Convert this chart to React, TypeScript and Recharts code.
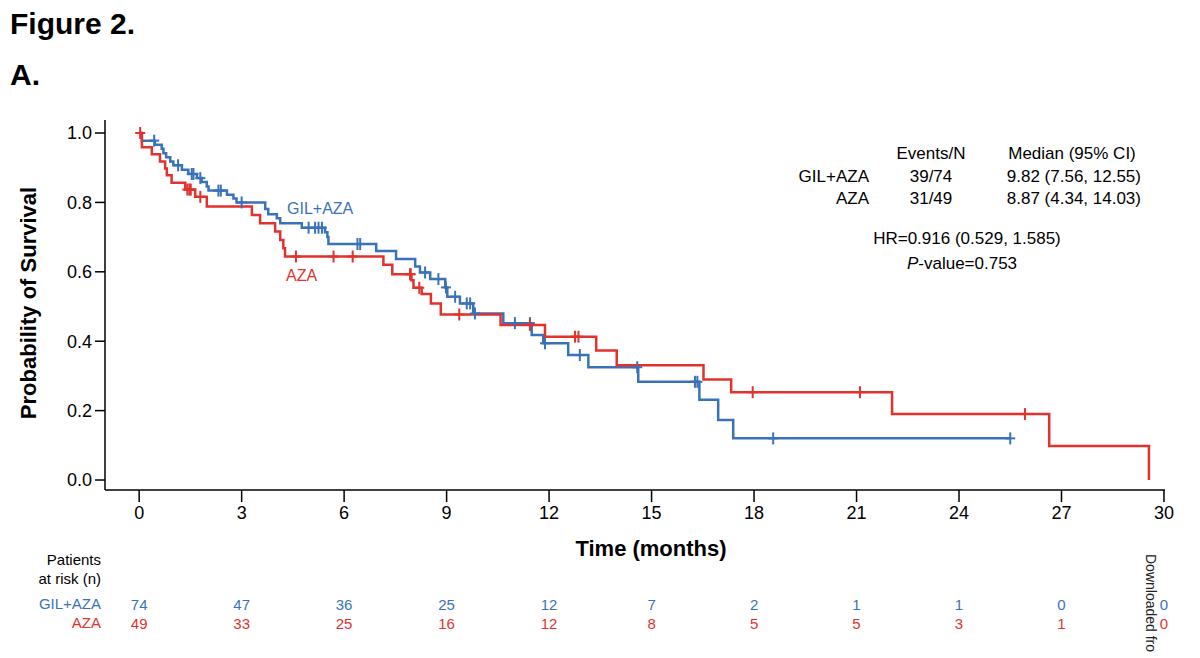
import React from "react";
import { ComposedChart, Line, Scatter, XAxis, YAxis } from "recharts";

const BLUE = "#3a72ba";
const RED = "#e1322e";
const FONT = "'Liberation Sans', Arial, Helvetica, sans-serif";

// Kaplan-Meier steps: month of each drop and the survival estimate after it
const gilTimes = [
  0, 0.08, 0.46, 0.66, 0.71, 0.79, 0.91, 1.0, 1.25, 1.44, 1.69, 1.83, 1.98, 2.03,
  2.57, 2.76, 2.85, 3.69, 3.78, 4.03, 4.13, 4.76, 5.44, 5.51, 5.54, 6.94, 7.52,
  8.08, 8.22, 8.52, 8.96, 9.02, 9.39, 9.78, 10.66, 11.49, 11.83, 12.56, 13.15,
  14.61, 16.4, 16.95, 17.39, 25.5,
];
const gilSurv = [
  1.0, 0.978, 0.966, 0.955, 0.942, 0.93, 0.918, 0.907, 0.894, 0.882, 0.87, 0.859,
  0.846, 0.834, 0.822, 0.811, 0.8, 0.781, 0.766, 0.754, 0.74, 0.727, 0.714, 0.7,
  0.68, 0.66, 0.637, 0.615, 0.598, 0.579, 0.555, 0.528, 0.509, 0.48, 0.452, 0.418,
  0.394, 0.36, 0.325, 0.283, 0.231, 0.173, 0.12, 0.12,
];
const gilCensored = [
  0.44, 1.14, 1.54, 1.59, 1.79, 2.32, 2.39, 3.0, 4.96, 5.15, 5.25, 5.35, 6.39,
  6.47, 8.37, 8.76, 8.98, 9.25, 9.59, 9.69, 9.83, 11.0, 11.44, 11.88, 12.9, 14.58,
  16.27, 16.34, 18.56, 25.5,
];

const azaTimes = [
  0, 0.08, 0.37, 0.61, 0.76, 0.81, 0.95, 1.35, 1.64, 1.98, 3.3, 3.54, 3.98, 4.13,
  4.22, 4.27, 7.15, 7.41, 7.97, 8.03, 8.27, 8.54, 8.83, 10.58, 11.88, 13.38, 13.98,
  16.52, 17.33, 22.04, 26.64, 29.56,
];
const azaSurv = [
  1.0, 0.959, 0.939, 0.918, 0.898, 0.878, 0.857, 0.837, 0.816, 0.788, 0.764, 0.74,
  0.716, 0.692, 0.668, 0.644, 0.62, 0.593, 0.576, 0.554, 0.536, 0.509, 0.477, 0.447,
  0.413, 0.373, 0.331, 0.29, 0.253, 0.19, 0.098, 0.0,
];
const azaCensored = [
  0.03, 1.41, 1.47, 1.51, 1.79, 4.59, 5.69, 6.25, 7.93, 7.95, 8.2, 9.37, 11.44,
  12.76, 12.86, 17.96, 21.1, 25.93,
];

const monthTicks = [0, 3, 6, 9, 12, 15, 18, 21, 24, 27, 30];
const survTicks = [0, 0.2, 0.4, 0.6, 0.8, 1.0];
const gilAtRisk = [74, 47, 36, 25, 12, 7, 2, 1, 1, 0, 0];
const azaAtRisk = [49, 33, 25, 16, 12, 8, 5, 5, 3, 1, 0];

const toSteps = (times: number[], surv: number[]) =>
  times.map((t, i) => ({ t, s: surv[i] }));

// survival level of the step curve in effect at month t
const levelAt = (times: number[], surv: number[], t: number) => {
  let s = surv[0];
  times.forEach((x, i) => {
    if (x <= t) s = surv[i];
  });
  return s;
};

const censorMarks = (times: number[], surv: number[], cens: number[]) =>
  cens.map((t) => ({ t, s: levelAt(times, surv, t) }));

const gilSteps = toSteps(gilTimes, gilSurv);
const azaSteps = toSteps(azaTimes, azaSurv);
const gilMarks = censorMarks(gilTimes, gilSurv, gilCensored);
const azaMarks = censorMarks(azaTimes, azaSurv, azaCensored);

function Plus({ cx, cy, color }: { cx?: number; cy?: number; color: string }) {
  if (cx == null || cy == null) return null;
  return (
    <g stroke={color} strokeWidth={2}>
      <line x1={cx} x2={cx} y1={cy - 6} y2={cy + 6} />
      <line x1={cx - 5} x2={cx + 5} y1={cy} y2={cy} />
    </g>
  );
}

// an extra bottom axis that only prints the at-risk counts under each month tick
function riskAxis(id: string, counts: number[], color: string) {
  return (
    <XAxis
      key={id}
      xAxisId={id}
      dataKey="t"
      type="number"
      domain={[-1, 30.03]}
      allowDataOverflow
      ticks={monthTicks}
      interval={0}
      height={19}
      tickSize={0}
      tickMargin={9}
      axisLine={false}
      tickLine={false}
      tickFormatter={(_v: number, i: number) => String(counts[i])}
      tick={{ fontSize: 15, fill: color, fontFamily: FONT }}
    />
  );
}

const txt = { fontFamily: FONT, fill: "#000" };

export default function App() {
  return (
    <div style={{ position: "absolute", left: 0, top: 0, width: 1200, height: 658, background: "#fff", overflow: "hidden" }}>
      <ComposedChart
        width={1200}
        height={658}
        margin={{ top: 120, right: 35, bottom: 30, left: 45 }}
      >
        <XAxis
          dataKey="t"
          type="number"
          domain={[-1, 30.03]}
          allowDataOverflow
          ticks={monthTicks}
          interval={0}
          height={100}
          tickSize={12}
          tickMargin={4}
          tick={{ fontSize: 18, fill: "#000", fontFamily: FONT }}
          axisLine={{ stroke: "#000", strokeWidth: 1.5 }}
          tickLine={{ stroke: "#000", strokeWidth: 1.5 }}
        />
        {riskAxis("riskRow1", gilAtRisk, BLUE)}
        {riskAxis("riskRow2", azaAtRisk, RED)}
        <YAxis
          type="number"
          domain={[-0.0288, 1.0375]}
          allowDataOverflow
          ticks={survTicks}
          interval={0}
          width={60}
          tickSize={10}
          tickMargin={3}
          tickFormatter={(v: number) => v.toFixed(1)}
          tick={{ fontSize: 18, fill: "#000", fontFamily: FONT }}
          axisLine={{ stroke: "#000", strokeWidth: 1.5 }}
          tickLine={{ stroke: "#000", strokeWidth: 1.5 }}
        />
        <Line data={gilSteps} dataKey="s" type="stepAfter" stroke={BLUE} strokeWidth={2.5} dot={false} isAnimationActive={false} />
        <Line data={azaSteps} dataKey="s" type="stepAfter" stroke={RED} strokeWidth={2.5} dot={false} isAnimationActive={false} />
        <Line data={gilSteps} dataKey="s" xAxisId="riskRow1" stroke="none" dot={false} isAnimationActive={false} />
        <Line data={azaSteps} dataKey="s" xAxisId="riskRow2" stroke="none" dot={false} isAnimationActive={false} />
        <Scatter data={gilMarks} dataKey="s" isAnimationActive={false} shape={(p: any) => <Plus cx={p.cx} cy={p.cy} color={BLUE} />} />
        <Scatter data={azaMarks} dataKey="s" isAnimationActive={false} shape={(p: any) => <Plus cx={p.cx} cy={p.cy} color={RED} />} />
      </ComposedChart>

      <svg width={1200} height={658} style={{ position: "absolute", left: 0, top: 0, pointerEvents: "none" }}>
        <text x={10} y={34} fontSize={30} fontWeight="bold" {...txt}>Figure 2.</text>
        <text x={10} y={85} fontSize={30} fontWeight="bold" {...txt}>A.</text>

        <text transform="translate(36,303) rotate(-90)" textAnchor="middle" fontSize={22} fontWeight="bold" {...txt}>
          Probability of Survival
        </text>
        <text x={651} y={556} textAnchor="middle" fontSize={22} fontWeight="bold" {...txt}>Time (months)</text>

        <text x={287} y={214} fontSize={16} fontFamily={FONT} fill={BLUE}>GIL+AZA</text>
        <text x={286} y={281} fontSize={16} fontFamily={FONT} fill={RED}>AZA</text>

        <g fontSize={17} {...txt}>
          <text x={931} y={159} textAnchor="middle">Events/N</text>
          <text x={1072} y={159} textAnchor="middle">Median (95% CI)</text>
          <text x={869} y={182} textAnchor="end">GIL+AZA</text>
          <text x={931} y={182} textAnchor="middle">39/74</text>
          <text x={1141} y={182} textAnchor="end">9.82 (7.56, 12.55)</text>
          <text x={869} y={204} textAnchor="end">AZA</text>
          <text x={931} y={204} textAnchor="middle">31/49</text>
          <text x={1141} y={204} textAnchor="end">8.87 (4.34, 14.03)</text>
          <text x={967} y={244} textAnchor="middle">HR=0.916 (0.529, 1.585)</text>
          <text x={962} y={269} textAnchor="middle">
            <tspan fontStyle="italic">P</tspan>-value=0.753
          </text>
        </g>

        <g fontSize={15} fontFamily={FONT}>
          <text x={101} y={565} textAnchor="end" fill="#000">Patients</text>
          <text x={101} y={584} textAnchor="end" fill="#000">at risk (n)</text>
          <text x={101} y={609} textAnchor="end" fill={BLUE}>GIL+AZA</text>
          <text x={101} y={628} textAnchor="end" fill={RED}>AZA</text>
        </g>

        <text transform="translate(1146,554) rotate(90)" fontSize={14} fontFamily={FONT} fill="#222">
          Downloaded fro
        </text>
      </svg>
    </div>
  );
}
